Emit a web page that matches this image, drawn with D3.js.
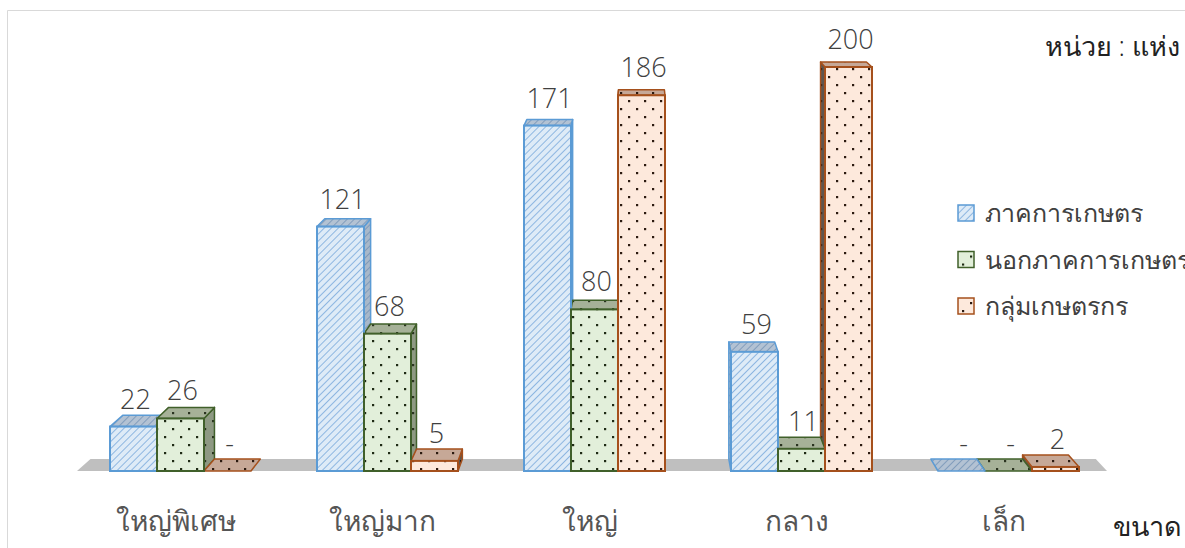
<!DOCTYPE html>
<html>
<head>
<meta charset="utf-8">
<script src="https://cdn.jsdelivr.net/npm/d3@7"></script>
<style>
  body { margin: 0; background: #fff; }
  text { font-family: "Open Sans", "Noto Sans", sans-serif; fill: #404040; }
</style>
</head>
<body>
<div id="chart"></div>
<script>
var groups = ["ใหญ่พิเศษ", "ใหญ่มาก", "ใหญ่", "กลาง", "เล็ก"];
var seriesNames = ["ภาคการเกษตร", "นอกภาคการเกษตร", "กลุ่มเกษตรกร"];
var agri = [22, 121, 171, 59, 0];
var nonAgri = [26, 68, 80, 11, 0];
var farmerGroup = [0, 5, 186, 200, 2];
var seriesValues = [agri, nonAgri, farmerGroup];

var W = 1185, H = 548;
// simple one point perspective for the depth of the bars
var VX = 640, VY = -221, TX = 0.024, TY = 0.0173;
function back(x, y) { return [x + (VX - x) * TX, y + (VY - y) * TY]; }

var svg = d3.select("#chart").append("svg")
    .attr("width", W)
    .attr("height", H);

var defs = svg.append("defs");

function hatch(id, bg, line) {
    var p = defs.append("pattern")
        .attr("id", id)
        .attr("patternUnits", "userSpaceOnUse")
        .attr("width", 5).attr("height", 5)
        .attr("patternTransform", "rotate(45)");
    p.append("rect").attr("width", 5).attr("height", 5).attr("fill", bg);
    p.append("line").attr("x1", 0).attr("y1", 0).attr("x2", 0).attr("y2", 5)
        .attr("stroke", line).attr("stroke-width", 1.4);
}
function dots(id, bg, dot) {
    var p = defs.append("pattern")
        .attr("id", id)
        .attr("patternUnits", "userSpaceOnUse")
        .attr("width", 16).attr("height", 16);
    p.append("rect").attr("width", 16).attr("height", 16).attr("fill", bg);
    p.append("rect").attr("x", 4).attr("y", 4).attr("width", 2.2).attr("height", 2.2).attr("fill", dot);
    p.append("rect").attr("x", 12).attr("y", 12).attr("width", 2.2).attr("height", 2.2).attr("fill", dot);
}
hatch("bFront", "#deebf7", "#6a9fd8");
hatch("bTop", "#b3c2d3", "#6d8db3");
hatch("bSide", "#a9b8c9", "#6d8db3");
dots("gFront", "#e2efda", "#1e2a14");
dots("gTop", "#a6b198", "#2a3320");
dots("gSide", "#8e9983", "#2a3320");
dots("oFront", "#fde9dc", "#2b1a10");
dots("oTop", "#c6a897", "#2b1a10");
dots("oSide", "#5e5650", "#2b1a10");

var styles = [
    { front: "url(#bFront)", top: "url(#bTop)", side: "url(#bSide)", stroke: "#5b9bd5" },
    { front: "url(#gFront)", top: "url(#gTop)", side: "url(#gSide)", stroke: "#40602a" },
    { front: "url(#oFront)", top: "url(#oTop)", side: "url(#oSide)", stroke: "#a5501c" }
];

// chart frame lines
svg.append("path")
    .attr("d", "M7.5," + H + "V10.5H" + W)
    .attr("fill", "none")
    .attr("stroke", "#d9d9d9");

var x0 = d3.scaleBand()
    .domain(groups)
    .range([75, 1110]);

var x1 = d3.scaleBand()
    .domain(d3.range(3))
    .range([35, 176]);

var y = d3.scaleLinear()
    .domain([0, 200])
    .range([471, 67]);

// floor
var fl = back(77, y(0)), fr = back(1107, y(0));
svg.append("polygon")
    .attr("points", [[77, y(0)], [1107, y(0)], fr, fl].join(" "))
    .attr("fill", "#bfbfbf");

var bars = [];
groups.forEach(function(g, gi) {
    seriesValues.forEach(function(vals, si) {
        var xa = x0(g) + x1(si);
        bars.push({ g: g, s: si, v: vals[gi], xa: xa, xb: xa + x1.bandwidth() });
    });
});

// back faces first, farthest from the eye first
var sorted = bars.slice().sort(function(a, b) {
    return Math.abs((b.xa + b.xb) / 2 - VX) - Math.abs((a.xa + a.xb) / 2 - VX);
});

var faces = svg.append("g");
sorted.forEach(function(d) {
    var st = styles[d.s];
    var yt = y(d.v), yb = y(0);
    var sx = (d.xa + d.xb) / 2 < VX ? d.xb : d.xa;
    if (d.v > 0) {
        faces.append("polygon")
            .attr("points", [[sx, yb], [sx, yt], back(sx, yt), back(sx, yb)].join(" "))
            .attr("fill", st.side)
            .attr("stroke", st.stroke)
            .attr("stroke-width", 1.5)
            .attr("stroke-linejoin", "round");
    }
    faces.append("polygon")
        .attr("points", [[d.xa, yt], [d.xb, yt], back(d.xb, yt), back(d.xa, yt)].join(" "))
        .attr("fill", st.top)
        .attr("stroke", st.stroke)
        .attr("stroke-width", 1.5)
        .attr("stroke-linejoin", "round");
});

svg.append("g").selectAll("rect")
    .data(bars.filter(function(d) { return d.v > 0; }))
    .enter()
    .append("rect")
    .attr("x", function(d) { return d.xa; })
    .attr("y", function(d) { return y(d.v); })
    .attr("width", function(d) { return d.xb - d.xa; })
    .attr("height", function(d) { return y(0) - y(d.v); })
    .attr("fill", function(d) { return styles[d.s].front; })
    .attr("stroke", function(d) { return styles[d.s].stroke; })
    .attr("stroke-width", 2);

// value labels
svg.append("g").selectAll("text")
    .data(bars)
    .enter()
    .append("text")
    .attr("x", function(d) { return (d.xa + d.xb) / 2 + 2; })
    .attr("y", function(d) { return y(d.v) - 18; })
    .attr("text-anchor", "middle")
    .style("font-size", "27px")
    .style("font-weight", 300)
    .style("fill", "#404040")
    .text(function(d) { return d.v === 0 ? "-" : d.v; });

// category labels
svg.append("g").selectAll("text")
    .data(groups)
    .enter()
    .append("text")
    .attr("x", function(d) { return x0(d) + x0.bandwidth() / 2 - 3; })
    .attr("y", 531)
    .attr("text-anchor", "middle")
    .style("font-size", "28px")
    .style("font-weight", 300)
    .style("fill", "#555")
    .text(function(d) { return d; });

svg.append("text")
    .attr("x", 1180)
    .attr("y", 56)
    .attr("text-anchor", "end")
    .style("font-size", "27px")
    .style("font-weight", 300)
    .style("fill", "#222")
    .text("หน่วย : แห่ง");

svg.append("text")
    .attr("x", 1182)
    .attr("y", 536)
    .attr("text-anchor", "end")
    .style("font-size", "27px")
    .style("font-weight", 300)
    .style("fill", "#222")
    .text("ขนาด");

// legend
var legend = svg.append("g")
    .selectAll("g")
    .data(seriesNames)
    .enter()
    .append("g")
    .attr("transform", function(d, i) { return "translate(958," + (213 + i * 46.5) + ")"; });
legend.append("rect")
    .attr("x", 0).attr("y", -8)
    .attr("width", 16).attr("height", 16)
    .attr("fill", function(d, i) { return styles[i].front; })
    .attr("stroke", function(d, i) { return styles[i].stroke; })
    .attr("stroke-width", 1.5);
legend.append("text")
    .attr("x", 27)
    .attr("y", 9)
    .style("font-size", "25px")
    .style("font-weight", 300)
    .text(function(d) { return d; });
</script>
</body>
</html>
